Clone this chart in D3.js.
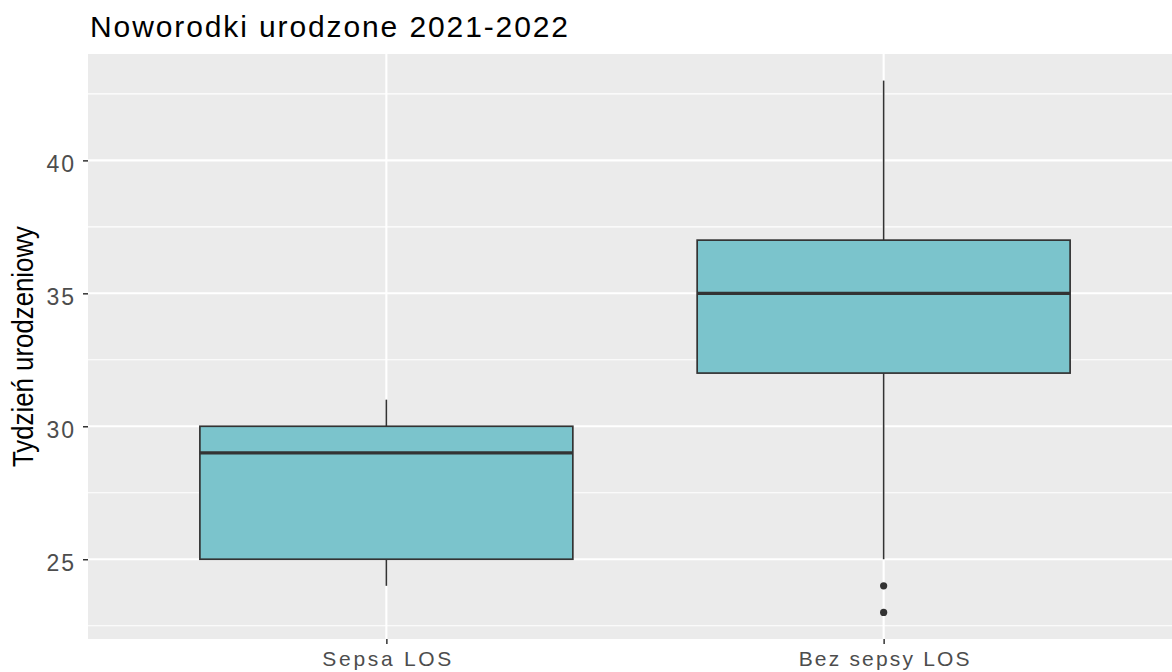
<!DOCTYPE html>
<html>
<head>
<meta charset="utf-8">
<script src="https://cdn.jsdelivr.net/npm/d3@7"></script>
<style>
  html, body { margin: 0; padding: 0; background: #ffffff; }
  svg { display: block; font-family: "Liberation Sans", Arial, sans-serif; }
</style>
</head>
<body>
<svg id="chart" width="1172" height="672"></svg>
<script>
// Box-plot summary per group (gestational week at birth)
const categories = ["Sepsa LOS", "Bez sepsy LOS"];
const whiskerLow = [24, 25];
const q1 = [25, 32];
const median = [29, 35];
const q3 = [30, 37];
const whiskerHigh = [31, 43];
const outliers = [[], [24, 23]];
const yTicks = [25, 30, 35, 40];
const yMinor = [22.5, 27.5, 32.5, 37.5, 42.5];

const title = "Noworodki urodzone 2021-2022";
const yTitle = "Tydzień urodzeniowy";

const svg = d3.select("#chart");
const panel = { left: 88, top: 54, right: 1182, bottom: 639 };

// Discrete x scale with 0.6 unit padding on both sides
const xPos = d3.scaleLinear()
  .domain([0.4, categories.length + 0.6])
  .range([panel.left, panel.right]);
const x = c => xPos(categories.indexOf(c) + 1);
const unit = xPos(2) - xPos(1);
const boxW = unit * 0.75;

const y = d3.scaleLinear().domain([22, 44]).range([panel.bottom, panel.top]);

// Panel background
svg.append("rect")
  .attr("x", panel.left).attr("y", panel.top)
  .attr("width", panel.right - panel.left).attr("height", panel.bottom - panel.top)
  .attr("fill", "#EBEBEB");

const grid = svg.append("g");
grid.selectAll("line.minor").data(yMinor).join("line")
  .attr("x1", panel.left).attr("x2", panel.right)
  .attr("y1", d => y(d)).attr("y2", d => y(d))
  .attr("stroke", "#ffffff").attr("stroke-width", 1.1);
grid.selectAll("line.major").data(yTicks).join("line")
  .attr("x1", panel.left).attr("x2", panel.right)
  .attr("y1", d => y(d)).attr("y2", d => y(d))
  .attr("stroke", "#ffffff").attr("stroke-width", 2.1);
grid.selectAll("line.vmajor").data(categories).join("line")
  .attr("x1", d => x(d)).attr("x2", d => x(d))
  .attr("y1", panel.top).attr("y2", panel.bottom)
  .attr("stroke", "#ffffff").attr("stroke-width", 2.1);

// Boxes
const boxes = svg.append("g");
categories.forEach((c, i) => {
  const cx = x(c);
  const g = boxes.append("g");
  g.append("line")
    .attr("x1", cx).attr("x2", cx)
    .attr("y1", y(whiskerHigh[i])).attr("y2", y(q3[i]))
    .attr("stroke", "#333333").attr("stroke-width", 1.6);
  g.append("line")
    .attr("x1", cx).attr("x2", cx)
    .attr("y1", y(q1[i])).attr("y2", y(whiskerLow[i]))
    .attr("stroke", "#333333").attr("stroke-width", 1.6);
  g.append("rect")
    .attr("x", cx - boxW / 2).attr("y", y(q3[i]))
    .attr("width", boxW).attr("height", y(q1[i]) - y(q3[i]))
    .attr("fill", "#7BC4CC").attr("stroke", "#333333").attr("stroke-width", 1.7);
  g.append("line")
    .attr("x1", cx - boxW / 2).attr("x2", cx + boxW / 2)
    .attr("y1", y(median[i])).attr("y2", y(median[i]))
    .attr("stroke", "#333333").attr("stroke-width", 3.3);
  g.selectAll("circle").data(outliers[i]).join("circle")
    .attr("cx", cx).attr("cy", d => y(d)).attr("r", 3.6)
    .attr("fill", "#333333");
});

// Y axis
const yAxis = svg.append("g")
  .attr("transform", `translate(${panel.left},0)`)
  .call(d3.axisLeft(y).tickValues(yTicks).tickSize(5).tickPadding(7).tickFormat(d3.format("d")));
yAxis.select(".domain").remove();
yAxis.selectAll(".tick line").attr("stroke", "#333333").attr("stroke-width", 1.5);
yAxis.selectAll(".tick text")
  .attr("fill", "#4D4D4D").attr("dy", "0.5em")
  .style("font-size", "23px")
  .style("letter-spacing", "2px");

// X axis
const xAxis = svg.append("g")
  .attr("transform", `translate(0,${panel.bottom})`)
  .call(d3.axisBottom(xPos).tickValues(categories.map((c, i) => i + 1))
    .tickSize(5).tickPadding(7).tickFormat(v => categories[v - 1]));
xAxis.select(".domain").remove();
xAxis.selectAll(".tick line").attr("stroke", "#333333").attr("stroke-width", 1.5);
const xLabelWidths = [129, 171];
xAxis.selectAll(".tick text")
  .attr("fill", "#4D4D4D").style("font-size", "21px")
  .attr("textLength", (d, i) => xLabelWidths[i])
  .attr("lengthAdjust", "spacing");

// Titles
svg.append("text")
  .attr("x", 90).attr("y", 37)
  .attr("fill", "#000000")
  .style("font-size", "30px")
  .attr("textLength", 478)
  .attr("lengthAdjust", "spacing")
  .text(title);

svg.append("text")
  .attr("transform", `translate(33,${(panel.top + panel.bottom) / 2}) rotate(-90)`)
  .attr("text-anchor", "middle")
  .attr("fill", "#000000")
  .style("font-size", "29px")
  .attr("textLength", 241)
  .attr("lengthAdjust", "spacingAndGlyphs")
  .text(yTitle);
</script>
</body>
</html>
